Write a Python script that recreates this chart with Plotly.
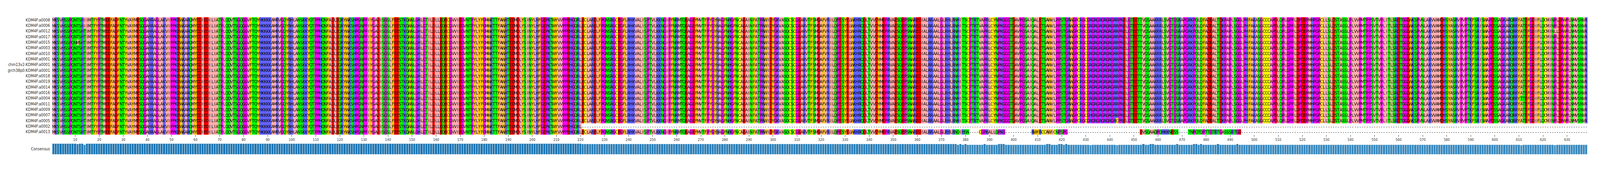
import plotly.graph_objects as go

row_names = ["KDM4F:a0008", "KDM4F:a0006", "KDM4F:a0012", "KDM4F:a0017", "KDM4F:a0015",
             "KDM4F:a0003", "KDM4F:a0010", "KDM4F:a0001", "chm13v2:KDM4F:a0001",
             "grch38p0:KDM4F:a0001", "KDM4F:a0018", "KDM4F:a0019", "KDM4F:a0014",
             "KDM4F:a0016", "KDM4F:a0004", "KDM4F:a0011", "KDM4F:a0009", "KDM4F:a0007",
             "KDM4F:a0005", "KDM4F:a0002", "KDM4F:a0013"]

consensus_parts = [
    "MKSVHSSPQNTSHTIMTFYPTMEEFADFNTYVAYMESQGAHRAGLAKVIPPKEWKARQMYDDIEDILI",
    "ATPLQQVTSGQGGVFTQYHKKKKAMRVGQYRHLANSKKYQTPPHQNFADLEQRYWKSHPGNPPIYGAD",
    "ISGSLFEESTKQWNLGHLGTILDLLEQECGVVIEGVNTPYLYFGMWKTTFAWHTEDMDLYSINYLHFGE",
    "PKTWYVVPPEHGQRLECLARELFPGNSRGCEGFLRHKVALISPTVLK",
    "KNGIPFNRMTQEAGEFMVTFPYGYHAGFNHGFNCAEAINFATPRWIDYGKVASQCSC",
    "GEARVTFSMDAFVRILQPESYELWKHRQDLTVVDYMEPRVAESQEPSNWREDIALRRAAL",
    "GLRHLRNHITSCPTRTVAPRLCYNPKGGGTDAVPGSAIQALETSAWVLPPSTGRWGPCR",
    "GCGRGRGRGRGRGRRPRELGTEETTVQSAAKRRLSVGTGSRAPGRKPQLQFADEALTDKP",
    "APLSGGLPHFAKASGCCCAPDLQPLGPPLDPDEPMHPGPCLLSLDSTASSLPLVVPMTPP",
    "SVTVPLITLSRDTGGDWKSPVNLAKVVAMDHSYASRVPVPTKFSRISWAPDSSAGKARQRR",
    "YATEFGDIFLQCMINPLDPWPLNMVSNVK",
]

# point substitutions: (row index, column 1-based, residue)
variants = [(0, 14, "I"), (1, 14, "I"), (4, 11, "M"), (17, 432, "H"),
            (18, 443, "C"), (14, 611, "T"), (2, 625, "L")]

a0002_len = 220
a0013_prefix_end = 367
a0013_segments = [(368, "ALGLRHLRNQIHSN"), (386, "CGPKALLQPKG"),
                  (408, "RWYRCCAWICNPSPG"), (453, "DVSQAAQPQHKKNESS"),
                  (473, "TNPQTQPTTGTRTGASSSRTGD")]

zappo = {"I": 0, "L": 0, "V": 0, "A": 0, "M": 0, "F": 1, "W": 1, "Y": 1,
         "K": 2, "R": 2, "H": 2, "D": 3, "E": 3, "S": 4, "T": 4, "N": 4, "Q": 4,
         "P": 5, "G": 5, "C": 6, "-": 7}
zcolors = ["#ffafaf", "#ffc800", "#6464ff", "#ff0000", "#00ff00", "#ff00ff", "#ffff00", "#ffffff"]

FONT = "DejaVu Sans Condensed, Liberation Sans Narrow, DejaVu Sans"

cons = "".join(consensus_parts)
L = len(cons)
rows = [list(cons) for _ in row_names]
for r, c, a in variants:
    rows[r][c - 1] = a
rows[19] = list(cons[:a0002_len]) + ["-"] * (L - a0002_len)
r13 = list(cons[:a0013_prefix_end]) + ["-"] * (L - a0013_prefix_end)
for s, seq in a0013_segments:
    for k, a in enumerate(seq):
        r13[s - 1 + k] = a
rows[20] = r13

z = [[zappo[a] for a in row] for row in rows]
cs = []
for k, col in enumerate(zcolors):
    cs.append([k / 8, col]); cs.append([(k + 1) / 8, col])

xs = list(range(1, L + 1))
ys = list(range(len(row_names)))
fig = go.Figure()
fig.add_trace(go.Heatmap(z=z, x=xs, y=ys, text=rows, texttemplate="%{text}",
                         textfont=dict(family=FONT, size=11, color="black"),
                         colorscale=cs, zmin=-0.5, zmax=7.5, showscale=False, hoverinfo="skip"))
counts = [sum(1 for a in row if a != "-") for row in rows]
fig.add_trace(go.Scatter(x=[639.4] * len(rows), y=ys, mode="text", text=[str(c) for c in counts],
                         textposition="middle right", cliponaxis=False,
                         textfont=dict(family=FONT, size=11, color="#262626"), hoverinfo="skip"))

frac = [sum(1 for row in rows if row[j] == cons[j]) / len(rows) for j in range(L)]

def shade(f):
    t = min(1.0, (1 - f) * 3.7)
    a = (0x1f, 0x77, 0xb4); b = (0x6b, 0xae, 0xd6)
    return "rgb(%d,%d,%d)" % tuple(int(a[i] + (b[i] - a[i]) * t) for i in range(3))

fig.add_trace(go.Bar(x=xs, y=frac, xaxis="x2", yaxis="y2", width=1.0,
                     marker=dict(color=[shade(f) for f in frac], line=dict(color="white", width=0.8)),
                     hoverinfo="skip"))
fig.add_trace(go.Scatter(x=xs, y=[-0.3] * L, xaxis="x2", yaxis="y2", mode="text", text=list(cons),
                         cliponaxis=False, textfont=dict(family=FONT, size=11, color="#262626"),
                         hoverinfo="skip"))

fig.update_layout(
    width=4096, height=438, margin=dict(l=101, r=40, t=36, b=38),
    paper_bgcolor="white", plot_bgcolor="white", showlegend=False, bargap=0,
    font=dict(family=FONT, color="#262626"),
    xaxis=dict(range=[0.5, L + 0.5], tickvals=list(range(10, L + 1, 10)), ticks="outside",
               ticklen=4, tickcolor="#333", tickfont=dict(size=9, color="#333"),
               showgrid=False, zeroline=False, showline=False, anchor="y"),
    yaxis=dict(domain=[0.173, 1.0], range=[len(rows) - 0.5, -0.5], tickvals=ys, ticktext=row_names,
               ticks="", ticklabelstandoff=5, tickfont=dict(size=10), showgrid=False, zeroline=False),
    xaxis2=dict(range=[0.5, L + 0.5], showticklabels=False, ticks="", showgrid=False,
                zeroline=False, anchor="y2", matches="x"),
    yaxis2=dict(domain=[0.033, 0.110], range=[0, 1], tickvals=[0.5], ticktext=["Consensus"],
                ticks="", ticklabelstandoff=5, tickfont=dict(size=10), showgrid=False, zeroline=False),
)
fig.write_html("out.html")
